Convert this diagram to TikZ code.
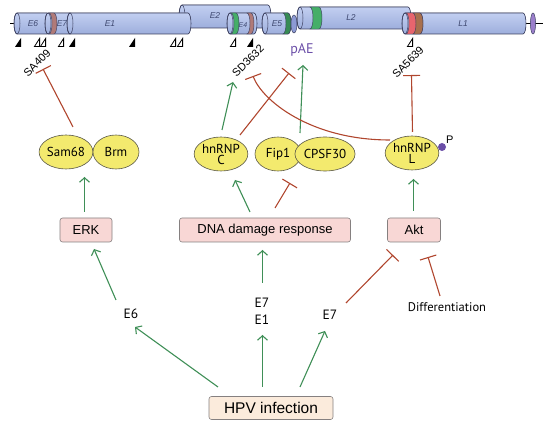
\documentclass[tikz,border=0pt]{standalone}
\usepackage{fontspec}
\setmainfont{Liberation Sans}
\newfontfamily\ptsans{PT Sans}
\usetikzlibrary{arrows.meta,calc,shapes.geometric,positioning}
\definecolor{exonlight}{HTML}{C2CFF1}
\definecolor{exondark}{HTML}{9DAEDC}
\definecolor{exonedge}{HTML}{3C4060}
\definecolor{exontext}{HTML}{3E4870}
\definecolor{actgreen}{HTML}{3F8F57}
\definecolor{inhred}{HTML}{B0462E}
\definecolor{factyellow}{HTML}{F3EA6E}
\definecolor{factedge}{HTML}{5A5848}
\definecolor{boxpink}{HTML}{F8D7D5}
\definecolor{boxcream}{HTML}{FBEBDC}
\definecolor{boxedge}{HTML}{858080}
\definecolor{paepurple}{HTML}{6B4FA8}
\definecolor{bandgreen}{HTML}{45AE68}
\definecolor{bandbrown}{HTML}{B07A78}
\definecolor{bandred}{HTML}{E8656E}
\definecolor{bandrust}{HTML}{A8704E}
\definecolor{capblue}{HTML}{8C9AD4}
\definecolor{cappurple}{HTML}{9B7FCB}

% cap radius of the exon cylinders
\newcommand\capr{3}
% exon cylinder: x1, x2, ytop, ybottom
\newcommand\exon[4]{%
  \pgfmathsetmacro\ery{(#4-#3)/2}
  \filldraw[exon] (#1,#3) -- (#2,#3)
    arc[start angle=-90, end angle=90, x radius=\capr, y radius=\ery] -- (#1,#4)
    arc[start angle=90, end angle=270, x radius=\capr, y radius=\ery] -- cycle;
  \draw[exonface] (#1,{(#3+#4)/2}) ellipse[x radius=\capr, y radius=\ery];
}
% coloured band on a cylinder: x1, x2, ytop, ybottom, colour
\newcommand\band[5]{%
  \pgfmathsetmacro\bry{(#4-#3)/2}
  \filldraw[#5, draw=exonedge, line width=0.45pt] (#1,#3)
    arc[start angle=-90, end angle=90, x radius=\capr, y radius=\bry] -- (#2,#4)
    arc[start angle=90, end angle=-90, x radius=\capr, y radius=\bry] -- cycle;
}

\begin{document}
\begin{tikzpicture}[
    x=1pt, y=-1pt,
    exon/.style={draw=exonedge, line width=0.6pt, top color=exonlight, bottom color=exondark},
    exonface/.style={exonedge, line width=0.5pt},
    exonlbl/.style={text=exontext, font=\itshape\fontsize{8.5}{9}\selectfont, inner sep=0pt},
    site/.style={rotate=45, font=\fontsize{11}{12}\selectfont, inner sep=0pt},
    factor/.style={ellipse, draw=factedge, line width=0.6pt, fill=factyellow, minimum width=46pt,
        minimum height=34pt, inner sep=0pt, align=center, font=\ptsans\fontsize{13}{11}\selectfont},
    pathbox/.style={draw=boxedge, line width=0.6pt, fill=boxpink, rounded corners=2.5pt,
        minimum height=24pt, inner sep=2pt, font=\fontsize{13}{15}\selectfont},
    plain/.style={inner sep=1pt, align=center, font=\ptsans\fontsize{13.5}{17}\selectfont},
    act/.style={actgreen, line width=1.1pt, -{Straight Barb[length=4.5pt, width=10pt]}},
    inhib/.style={inhred, line width=1.1pt, -{Bar[width=17pt, line width=1.1pt]}}
]
\useasboundingbox (0,0) rectangle (550,427);

% ================================================================
% GENOME MAP
% ================================================================
\draw[line width=0.9pt] (10,23) -- (17,23);
\draw[line width=0.9pt] (523,23) -- (543,23);

\exon{182}{268}{5}{28}
\exon{17}{47}{13}{34}
\exon{48}{70}{13}{34}
\band{49}{54}{13}{34}{bandbrown}
\exon{70}{188}{13}{34}
\exon{230}{254}{13}{34}
\band{231}{236}{13}{34}{bandgreen}
\band{247}{251}{13}{34}{bandbrown}
\exon{265}{288}{13}{34}
\band{283}{288}{13}{34}{bandgreen!80!black}
\filldraw[capblue, draw=exonedge, line width=0.5pt] (294,24) ellipse[x radius=3, y radius=9];
\exon{300}{408}{7}{29}
\band{310}{319}{7}{29}{bandgreen}
\exon{405}{523}{13}{34}
\band{406}{420}{13}{34}{bandred}
\band{413}{420}{13}{34}{bandrust}
\filldraw[cappurple, draw=exonedge, line width=0.5pt] (533,23.5) ellipse[x radius=2.6, y radius=10.5];

\node[exonlbl] (lblE6) at (33,24) {E6};
\node[exonlbl] (lblE7) at (62,24) {E7};
\node[exonlbl] (lblE1) at (110,24) {E1};
\node[exonlbl] (lblE2) at (215,16) {E2};
\node[exonlbl, font=\itshape\fontsize{7}{8}\selectfont] (lblE4) at (243,25) {E4};
\node[exonlbl] (lblE5) at (277,24) {E5};
\node[exonlbl] (lblL2) at (351,18) {L2};
\node[exonlbl] (lblL1) at (463,24) {L1};

% splice sites: filled and open marks
\foreach \x in {18,72,132,250}
    \fill (\x-3,47) -- (\x+3,47) -- (\x+3,38) -- cycle;
\foreach \x in {37,43,61,173,180,233,410}
    \draw[line width=0.8pt, line join=miter] (\x-2.6,46.6) -- (\x+2.6,46.6) -- (\x+2.6,38.5) -- cycle;

\node[site] (sa409) at (37,63) {SA409};
\node[site] (sd3632) at (248,61) {SD3632};
\node[site] (sa5639) at (408,62) {SA5639};
\node[text=paepurple, inner sep=1pt, font=\ptsans\fontsize{14}{16}\selectfont] (pae) at (302,50) {pAE};

% ================================================================
% FACTORS AND PATHWAYS
% ================================================================
\node[factor] (sam68) at (66,152) {Sam68};
\node[factor] (brm) at (116,152) {Brm};
\node[factor] (hnrnpc) at (221,154) {hnRNP\\C};
\node[factor] (fip1) at (278,154) {Fip1};
\node[factor] (cpsf30) at (325,154) {CPSF30};
\node[factor] (hnrnpl) at (412,153) {hnRNP\\L};
\node[circle, fill=paepurple, minimum size=8pt, inner sep=0pt] (phos) at ($(hnrnpl)+(30,-6)$) {};
\node[inner sep=0pt, font=\fontsize{11}{12}\selectfont, above right=0pt and 1pt of phos] (plbl) {P};

\node[pathbox, minimum width=52pt] (erk) at (86,230) {ERK};
\node[pathbox, minimum width=171pt] (dna) at (265,230) {DNA damage response};
\node[pathbox, minimum width=53pt] (akt) at (414,230) {Akt};

\node[plain] (e6) at (131,314) {E6};
\node[plain] (e7e1) at (262,311) {E7\\E1};
\node[plain] (e7) at (330,315) {E7};
\node[plain, font=\ptsans\fontsize{12.5}{14}\selectfont] (diff) at (447,307) {Differentiation};

\node[pathbox, fill=boxcream, minimum width=124pt, minimum height=23pt,
      font=\fontsize{15.5}{17}\selectfont] (hpv) at (271,408) {HPV infection};

% ---- splicing and polyadenylation control ----
\draw[inhib] ($(sam68)+(7,-25)$) -- ($(sa409)+(6,6)$);
\draw[act] ($(hnrnpc)+(1,-24)$) -- ($(sd3632)+(-15,21)$);
\draw[inhib] ($(hnrnpc)+(19,-19)$) -- ($(pae)+(-13,23)$);
\draw[act] ($(fip1)+(22,-21)$) -- ($(pae)+(1,15)$);
\draw[inhib] ($(hnrnpl)+(-22,-13)$) .. controls (310,140) and (262,100) .. ($(sd3632)+(5,15)$);
\draw[inhib] ($(hnrnpl)+(0.5,-21)$) -- ($(sa5639)+(3.5,13)$);

% ---- signalling ----
\draw[act] ($(erk)+(-1.5,-18)$) -- ($(sam68)+(18.5,25)$);
\draw[act] ($(dna)+(-15,-18)$) -- ($(hnrnpc)+(14,26)$);
\draw[inhib] ($(dna)+(10,-22)$) -- ($(fip1)+(12,29)$);
\draw[act] ($(akt)+(-0.5,-19)$) -- ($(hnrnpl)+(1.5,26)$);

\draw[act] ($(e6)+(-15,-14)$) -- ($(erk)+(8,19)$);
\draw[act] ($(e7e1)+(0.5,-28)$) -- ($(dna)+(-2.5,20)$);
\draw[inhib] ($(e7)+(16,-12)$) -- ($(akt)+(-21,25)$);
\draw[inhib] ($(diff)+(-7,-11)$) -- ($(akt)+(14,27)$);

% ---- viral input ----
\draw[act] ($(hpv)+(-53,-21)$) -- ($(e6)+(4,13)$);
\draw[act] ($(hpv)+(-8.5,-21)$) -- ($(e7e1)+(0.5,24)$);
\draw[act] ($(hpv)+(29,-21)$) -- ($(e7)+(-5,16)$);

\end{tikzpicture}
\end{document}
